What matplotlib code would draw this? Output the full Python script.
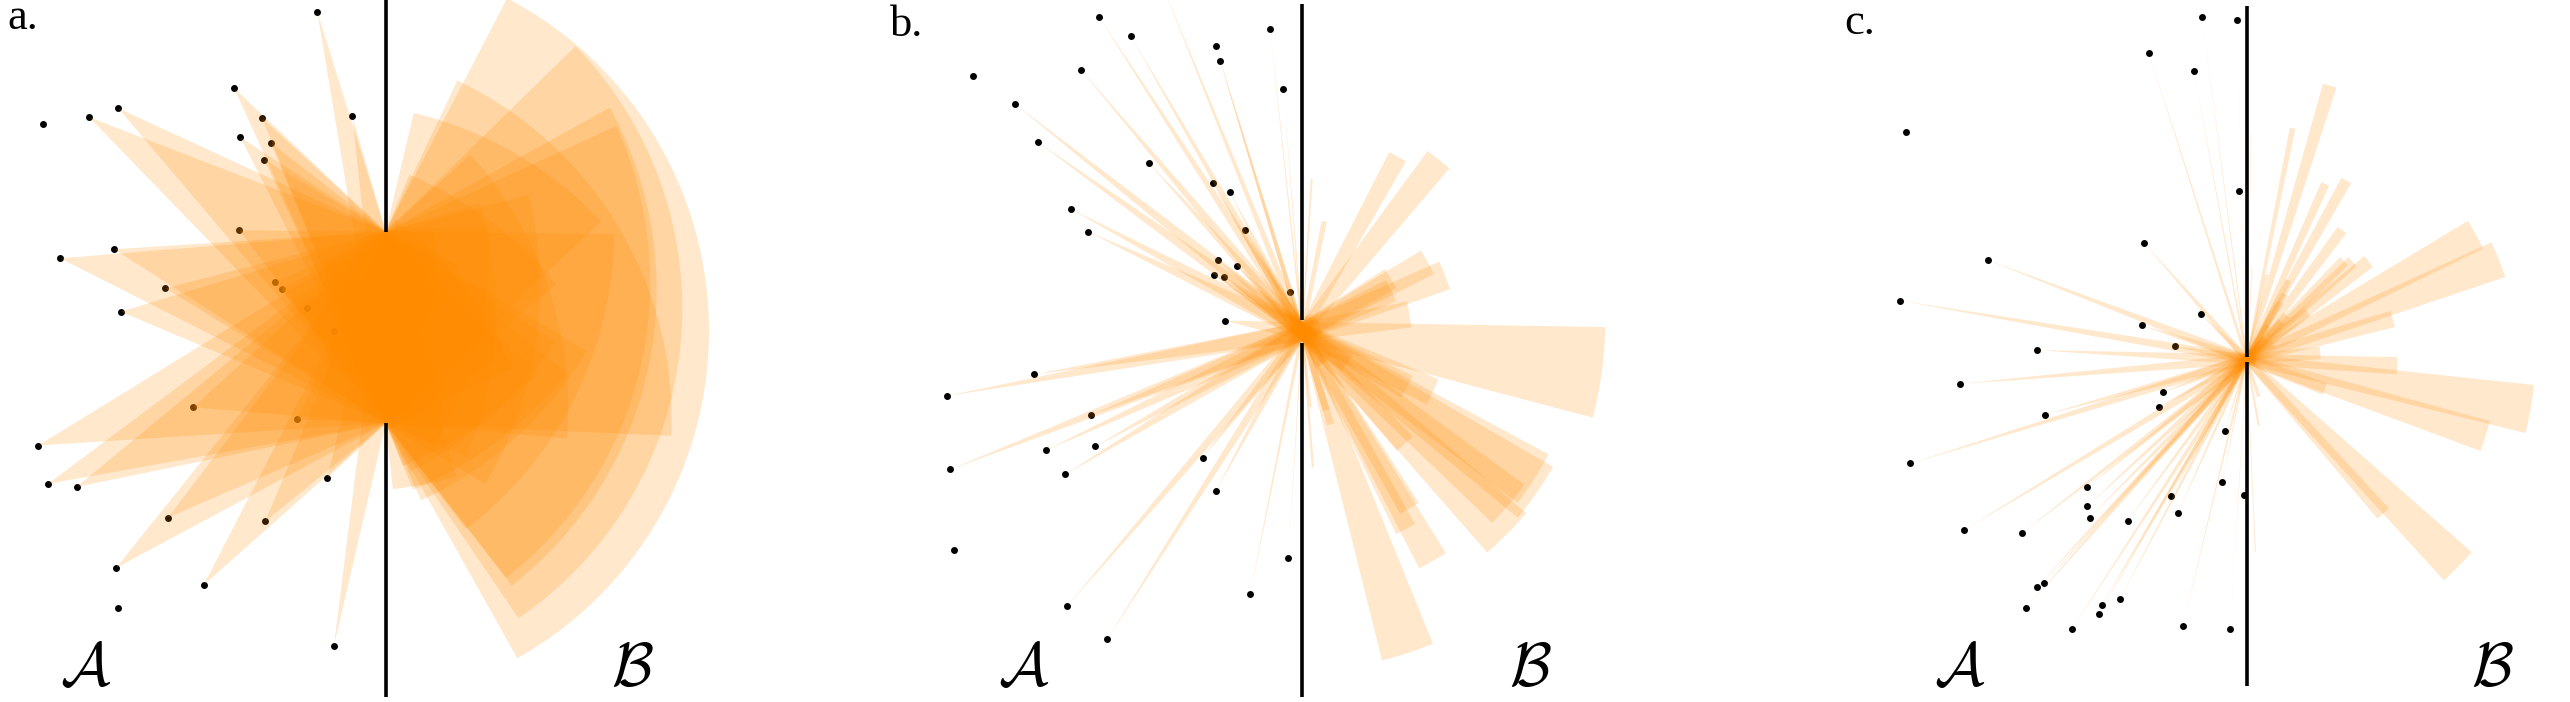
import numpy as np
import matplotlib
matplotlib.use('Agg')
import matplotlib.pyplot as plt
from matplotlib.patches import Wedge

plt.rcParams['mathtext.fontset'] = 'cm'

# source points, in px measured from the middle of the opening in the wall (y up)
A_X = [-68.4, -33.4, -151.4, -123.4, -145.4, -115.0, -121.4, -342.4, -296.4, -267.4,
       -146.4, -271.4, -325.4, -220.4, -265.0, -110.4, -104.0, -78.4, -51.7, -192.4,
       -89.0, -347.4, -337.5, -309.0, -58.3, -217.6, -120.2, -269.6, -182.0, -268.0, -51.7]
A_Y = [315.8, 211.2, 239.2, 209.2, 190.2, 184.8, 167.8, 203.2, 210.2, 219.2,
       97.2, 78.2, 69.2, 39.2, 15.8, 45.2, 38.2, 19.2, -3.5, -79.8,
       -91.9, -118.0, -156.25, -159.4, -150.4, -190.0, -193.6, -240.4, -257.5, -280.9, -318.25]

B_X = [-203.0, -171.6, -32.1, -86.2, -82.3, -18.9, -329.3, -221.3, -287.3, -264.3,
       -153.4, -89.5, -72.4, -231.2, -214.1, -56.9, -84.5, -65.2, -88.4, -78.4,
       -12.3, -77.0, -268.1, -355.7, -210.8, -256.0, -206.9, -351.9, -237.2, -99.4,
       -86.2, -348.6, -13.9, -52.0, -235.0, -194.8, -138.6]
B_Y = [314.4, 295.5, 302.25, 285.1, 270.75, 242.85, 255.9, 261.75, 227.5, 189.3,
       168.6, 148.3, 139.3, 122.25, 99.75, 101.1, 71.4, 65.1, 57.0, 54.75,
       39.8, 10.8, -42.9, -64.5, -83.4, -118.5, -114.9, -137.85, -142.8, -126.15,
       -159.0, -218.4, -226.5, -262.5, -274.65, -307.5, 343.0]

C_X = [-44.5, -9.8, -97.7, -52.7, -341.0, -7.6, -102.6, -259.0, -347.0, -46.1,
       -104.8, -210.1, -71.7, -286.2, -83.6, -88.0, -202.0, -21.7, -336.7, -24.4,
       -2.7, -159.6, -76.0, -159.6, -156.9, -69.0, -118.9, -282.9, -224.8, -210.1,
       -202.5, -221.0, -127.1, -145.0, -148.2, -174.3, -63.5, -16.3]
C_Y = [342.55, 338.95, 306.55, 288.55, 227.35, 167.95, 116.2, 99.1, 58.6, 45.55,
       33.85, 9.1, 12.7, -24.65, -33.2, -48.05, -55.7, -71.9, -104.3, -123.2,
       -135.8, -128.15, -136.7, -147.05, -158.3, -154.25, -161.45, -170.9, -174.05, -228.05,
       -223.55, -249.2, -240.2, -246.05, -255.05, -269.45, -266.3, -269.45]

# half height of the opening seen by the beams, gap left in the drawn wall,
# and reach of each beam, per panel
HALF_GAP = [95.8, 9.5, 5.0]
WALL_GAP = [95.8, 11.5, 2.5]
REACH = [375, 380, 361]
PANEL_TAGS = ['a.', 'b.', 'c.']

W, H = 2570, 702
# left edge, width, opening centre x, opening centre y, wall top, wall bottom (figure px)
layout = [
    (0, 860, 385.7, 327.5, 0, 697),
    (860, 860, 1302.3, 331.5, 3.6, 697),
    (1720, 850, 2246.7, 359.2, 6, 686),
]
tag_pos = [(7, 29), (890, 36), (1844, 34)]
label_x = [(86, 632), (1024, 1530), (1960, 2492)]

fig = plt.figure(figsize=(W / 100, H / 100), dpi=100)
points = [(A_X, A_Y), (B_X, B_Y), (C_X, C_Y)]

for i, (xs, ys) in enumerate(points):
    left, width, cx, cy, top, bottom = layout[i]
    ax = fig.add_axes([left / W, 0, width / W, 1])
    ax.set_xlim(left - cx, left + width - cx)
    ax.set_ylim(cy - H, cy)
    ax.axis('off')

    xs = np.array(xs)
    ys = np.array(ys)
    h = HALF_GAP[i]
    r = REACH[i]

    ax.plot(xs, ys, 'o', color='black', ms=5, mew=0, zorder=1)

    # beam from each point through the opening
    for x, y in zip(xs, ys):
        if np.hypot(x, y) >= r:
            continue
        t1 = np.degrees(np.arctan2(-h - y, -x))
        t2 = np.degrees(np.arctan2(h - y, -x))
        ax.add_patch(Wedge((x, y), r, t1, t2, facecolor='darkorange',
                           alpha=0.2, edgecolor='none', lw=0, zorder=2))

    # wall with the opening
    g = WALL_GAP[i]
    ax.plot([0, 0], [g, cy - top], color='black', lw=2.6, zorder=3,
            solid_capstyle='butt')
    ax.plot([0, 0], [-g, cy - bottom], color='black', lw=2.6, zorder=3,
            solid_capstyle='butt')

    tx, ty = tag_pos[i]
    ax.text(tx - cx, cy - ty, PANEL_TAGS[i], family='Liberation Serif',
            fontsize=32, ha='left', va='baseline')
    ax.text(label_x[i][0] - cx, cy - 699, r'$\mathcal{A}$', fontsize=44,
            ha='center', va='bottom')
    ax.text(label_x[i][1] - cx, cy - 699, r'$\mathcal{B}$', fontsize=44,
            ha='center', va='bottom')

fig.savefig('out.png', dpi=100)
